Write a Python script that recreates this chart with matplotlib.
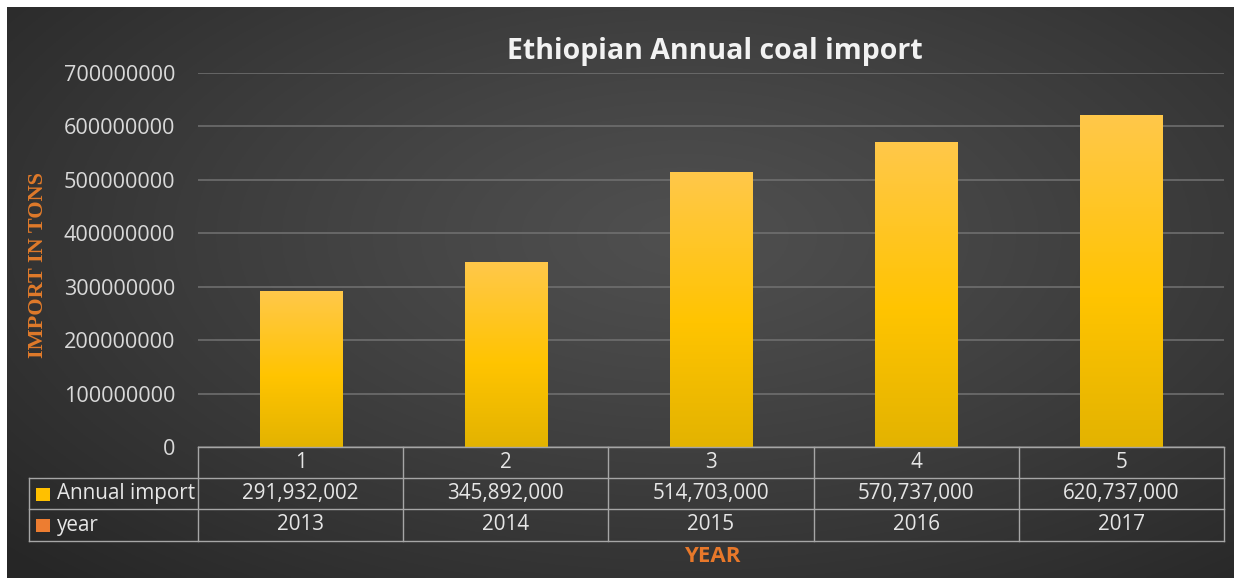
import numpy as np
import matplotlib
matplotlib.use("Agg")
import matplotlib.pyplot as plt
from matplotlib.colors import LinearSegmentedColormap
from matplotlib.patches import Rectangle
import matplotlib.transforms as mtransforms

# ---- data ----
categories = ["1", "2", "3", "4", "5"]
annual_import = [291932002, 345892000, 514703000, 570737000, 620737000]
years = [2013, 2014, 2015, 2016, 2017]
yticks = [0, 100000000, 200000000, 300000000, 400000000, 500000000, 600000000, 700000000]
title = "Ethiopian Annual coal import"
row_labels = ["Annual import", "year"]
row_colors = ["#FFC000", "#ED7D31"]

W, H = 1234, 578
fig = plt.figure(figsize=(W / 100, H / 100), dpi=100)
fig.patch.set_facecolor("white")

# background radial gradient (chart area starts after a thin white border)
bg = fig.add_axes([7 / W, 0, 1 - 7 / W, 1 - 7 / H])
bg.set_axis_off()
yy, xx = np.mgrid[0:300, 0:600]
cx, cy = 330, 120
r = np.sqrt(((xx - cx) / 600) ** 2 + ((yy - cy) / 330) ** 2)
r = np.clip(r / 0.75, 0, 1)
c0, c1 = 0.31, 0.15
val = c0 - (c0 - c1) * r ** 1.2
bg.imshow(np.dstack([val, val, val]), aspect="auto", extent=[0, 1, 0, 1], origin="upper")
bg.set_xlim(0, 1)
bg.set_ylim(0, 1)

# main axes
x0, x1 = 198, 1224
ytop, ybot = 73, 447
ax = fig.add_axes([x0 / W, 1 - ybot / H, (x1 - x0) / W, (ybot - ytop) / H])
ax.set_facecolor("none")
for s in ax.spines.values():
    s.set_visible(False)
ax.set_xlim(-0.5, len(categories) - 0.5)
ax.set_ylim(0, 700000000)
ax.set_yticks(yticks)
ax.set_yticklabels([str(v) for v in yticks])
ax.tick_params(axis="y", length=0, pad=16.5, labelsize=15.6, labelcolor="#d9d9d9")
for lbl in ax.get_yticklabels():
    lbl.set_fontfamily("Open Sans")
ax.set_xticks([])
ax.grid(axis="y", color="#727272", linewidth=1.1)
ax.set_axisbelow(True)

xs = np.arange(len(categories))
bars = ax.bar(xs, annual_import, width=0.4, color="#FFC000", zorder=3)
bar_cmap = LinearSegmentedColormap.from_list(
    "barg", [(0, "#E3B300"), (0.45, "#FFC400"), (1, "#FFC84A")])
grad = np.linspace(0, 1, 256).reshape(-1, 1)
for b in bars:
    bx, by = b.get_x(), b.get_y()
    bw, bh = b.get_width(), b.get_height()
    im = ax.imshow(grad, cmap=bar_cmap, aspect="auto", origin="lower",
                   extent=[bx, bx + bw, by, by + bh], zorder=4)
    im.set_clip_path(b)
ax.set_xlim(-0.5, len(categories) - 0.5)
ax.set_ylim(0, 700000000)

# title
fig.text(715 / W, 1 - 52 / H, title, ha="center", va="center", fontsize=20.5,
         fontweight="bold", color="#f2f2f2", fontfamily="Open Sans")

# y label
fig.text(38 / W, 1 - 265 / H, "IMPORT IN TONS", rotation=90, ha="center", va="center",
         fontsize=16, fontweight="bold", color="#E07A2A", fontfamily="Liberation Serif")

# x label
fig.text(712 / W, 1 - 556 / H, "YEAR", ha="center", va="center", fontsize=16,
         fontweight="bold", color="#E8782A", fontfamily="Open Sans")

# data table
trans = mtransforms.blended_transform_factory(ax.transData, ax.transAxes)
ph = ybot - ytop
row_edges_px = [447, 478, 509, 541]
row_edges = [-(p - ybot) / ph for p in row_edges_px]
lc = "#a6a6a6"
ftab = dict(fontsize=14.9, color="#e6e6e6", fontfamily="Open Sans", ha="center", va="center")
left_ax = (29 - x0) / (x1 - x0)
ax.plot([-0.5, len(categories) - 0.5], [row_edges[0]] * 2, transform=trans, color=lc,
        lw=1, clip_on=False, zorder=5)
for e in row_edges[1:]:
    ax.plot([left_ax, 1], [e, e], transform=ax.transAxes, color=lc, lw=1, clip_on=False)
for i in range(len(categories) + 1):
    ax.plot([i - 0.5, i - 0.5], [row_edges[0], row_edges[3]], transform=trans, color=lc,
            lw=1, clip_on=False)
ax.plot([left_ax, left_ax], [row_edges[1], row_edges[3]], transform=ax.transAxes,
        color=lc, lw=1, clip_on=False)
for i, c in enumerate(categories):
    ax.text(i, (row_edges[0] + row_edges[1]) / 2, c, transform=trans, **ftab)
    ax.text(i, (row_edges[1] + row_edges[2]) / 2, f"{annual_import[i]:,}", transform=trans, **ftab)
    ax.text(i, (row_edges[2] + row_edges[3]) / 2, str(years[i]), transform=trans, **ftab)
for j, (lab, col) in enumerate(zip(row_labels, row_colors)):
    yc_px = (row_edges_px[j + 1] + row_edges_px[j + 2]) / 2
    fig.patches.append(Rectangle((36 / W, 1 - (yc_px + 7) / H), 14 / W, 13 / H,
                                 transform=fig.transFigure, facecolor=col,
                                 edgecolor="none", figure=fig))
    fig.text(57 / W, 1 - yc_px / H, lab, color="#e6e6e6", fontsize=14.9, va="center",
             ha="left", fontfamily="Open Sans")

fig.savefig("out.png", dpi=100, facecolor=fig.get_facecolor())
